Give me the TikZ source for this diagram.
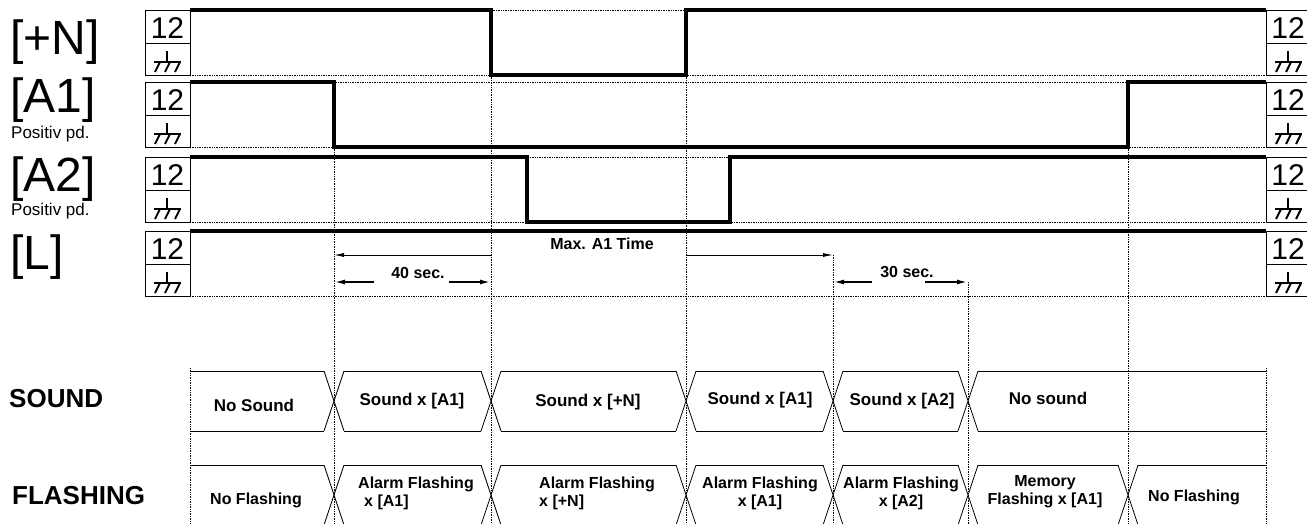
\documentclass[tikz,border=0pt]{standalone}
\usepackage{fontspec}
\setmainfont{Liberation Sans}
\usetikzlibrary{arrows.meta}

\begin{document}
\begin{tikzpicture}[x=1pt,y=-1pt,
    sig/.style={line width=3.6pt},
    grid/.style={densely dotted, line width=0.7pt},
    lvl/.style={line width=0.8pt},
    bus/.style={line width=0.8pt},
    dimarr/.style={-{Latex[length=10pt,width=4pt]}, line width=0.8pt},
    dimthick/.style={-{Latex[length=11pt,width=5pt]}, line width=1.8pt},
    signame/.style={anchor=west, inner sep=0pt, font=\fontsize{48}{48}\selectfont},
    subname/.style={anchor=west, inner sep=0pt, font=\fontsize{17}{17}\selectfont},
    rowname/.style={anchor=west, inner sep=0pt, font=\bfseries\fontsize{26}{26}\selectfont},
    state/.style={inner sep=0pt, align=center, font=\bfseries\fontsize{17}{18}\selectfont},
    fstate/.style={inner sep=0pt, font=\bfseries\fontsize{16}{18}\selectfont},
    timetxt/.style={inner sep=0pt, font=\bfseries\fontsize{16}{16}\selectfont},
    volt/.style={inner sep=0pt, font=\fontsize{30}{30}\selectfont},
    gnd/.pic={
      \draw[line width=2pt] (-12,0) -- (15,0);
      \draw[line width=2pt] (1,0) -- (1,-11);
      \foreach \dx in {-6,4,14} \draw[line width=2pt] (\dx,0) -- (\dx-5,10);
    }]
  \useasboundingbox (0,0) rectangle (1307,524);
  \clip (0,0) rectangle (1307,524);

  % level boxes and row grid
  \foreach \t/\nm in {10/pn,82/aa,157/ab,231/ll}{
    \draw[grid] (190,\t) -- (1266,\t);
    \draw[grid] (190,\t+65) -- (1266,\t+65);
    \draw[lvl] (145,\t) rectangle (190,\t+65) (145,\t+33) -- (190,\t+33);
    \node[volt] (v\nm) at (167.5,\t+18) {12};
    \pic at (166,\t+52) {gnd};
    \draw[lvl] (1266,\t) rectangle (1320,\t+65) (1266,\t+33) -- (1320,\t+33);
    \node[volt] (w\nm) at (1288,\t+18) {12};
    \pic at (1287,\t+52) {gnd};
  }

  % signals
  \draw[sig] (190,10) -| (491,75) -| (686,10) -- (1266,10);
  \draw[sig] (190,82) -| (334,147) -| (1128,82) -- (1266,82);
  \draw[sig] (190,157) -| (527,222) -| (730,157) -- (1266,157);
  \draw[sig] (190,231) -- (1266,231);

  \node[signame] (npn) at (10,42) {[+N]};
  \node[signame] (naa) at (10,100) {[A1]};
  \node[subname] (paa) at (11,134) {Positiv pd.};
  \node[signame] (nab) at (10,179) {[A2]};
  \node[subname] (pab) at (11,211) {Positiv pd.};
  \node[signame] (nll) at (10,257) {[L]};

  % time marks
  \draw[grid] (334,147) -- (334,524);
  \draw[grid] (491,75) -- (491,524);
  \draw[grid] (686,75) -- (686,524);
  \draw[grid] (833,255) -- (833,524);
  \draw[grid] (968,282) -- (968,524);
  \draw[grid] (1128,147) -- (1128,524);
  \draw[grid] (190,368) -- (190,524);
  \draw[grid] (1266,368) -- (1266,524);

  % Max. A1 Time
  \coordinate (mx1) at (334,255);
  \coordinate (mx2) at (491,255);
  \coordinate (mx3) at (686,255);
  \coordinate (mx4) at (833,255);
  \draw[dimarr] (mx2) -- (mx1);
  \draw[dimarr] (mx3) -- (mx4);
  \node[timetxt] (maxtxt) at (602,244) {Max. A1 Time};

  % 40 sec. / 30 sec.
  \coordinate (a40) at (334,282);
  \coordinate (b40) at (491,282);
  \coordinate (c40) at (374,282);
  \coordinate (d40) at (449,282);
  \node[timetxt] (t40) at (418,273) {40 sec.};
  \draw[dimthick] (c40) -- (a40);
  \draw[dimthick] (d40) -- (b40);
  \coordinate (a30) at (833,282);
  \coordinate (b30) at (968,282);
  \coordinate (c30) at (872,282);
  \coordinate (d30) at (925,282);
  \node[timetxt] (t30) at (907,272) {30 sec.};
  \draw[dimthick] (c30) -- (a30);
  \draw[dimthick] (d30) -- (b30);

  % SOUND row
  \node[rowname] (sound) at (9,399) {SOUND};
  \foreach \c in {334,491,686,833,968}
    \draw[bus] (\c-10,371) -- (\c+10,431) (\c-10,431) -- (\c+10,371);
  \foreach \a/\b in {190/324,344/481,501/676,696/823,843/958,978/1266}
    \draw[bus] (\a,371) -- (\b,371) (\a,431) -- (\b,431);
  \node[state] (s1) at (254,405) {No Sound};
  \node[state] (s2) at (412,401) {Sound x [A1]};
  \node[state] (s3) at (588,402) {Sound x [+N]};
  \node[state] (s4) at (760,400) {Sound x [A1]};
  \node[state] (s5) at (902,401) {Sound x [A2]};
  \node[state] (s6) at (1048,398) {No sound};

  % FLASHING row
  \node[rowname] (flash) at (12,496) {FLASHING};
  \foreach \c in {334,491,686,833,968,1128}
    \draw[bus] (\c-10,465) -- (\c+10,525) (\c-10,525) -- (\c+10,465);
  \foreach \a/\b in {190/324,344/481,501/676,696/823,843/958,978/1118,1138/1266}
    \draw[bus] (\a,465) -- (\b,465) (\a,525) -- (\b,525);
  \node[fstate] (f1) at (256,500) {No Flashing};
  \node[fstate, align=left] (f2) at (416,493) {Alarm Flashing\\\hspace*{6pt}x [A1]};
  \node[fstate, align=left] (f3) at (597,493) {Alarm Flashing\\x [+N]};
  \node[fstate, align=center] (f4) at (760,493) {Alarm Flashing\\x [A1]};
  \node[fstate, align=center] (f5) at (901,493) {Alarm Flashing\\x [A2]};
  \node[fstate, align=center] (f6) at (1045,492) {Memory\\Flashing x [A1]};
  \node[fstate] (f7) at (1194,497) {No Flashing};
\end{tikzpicture}
\end{document}
